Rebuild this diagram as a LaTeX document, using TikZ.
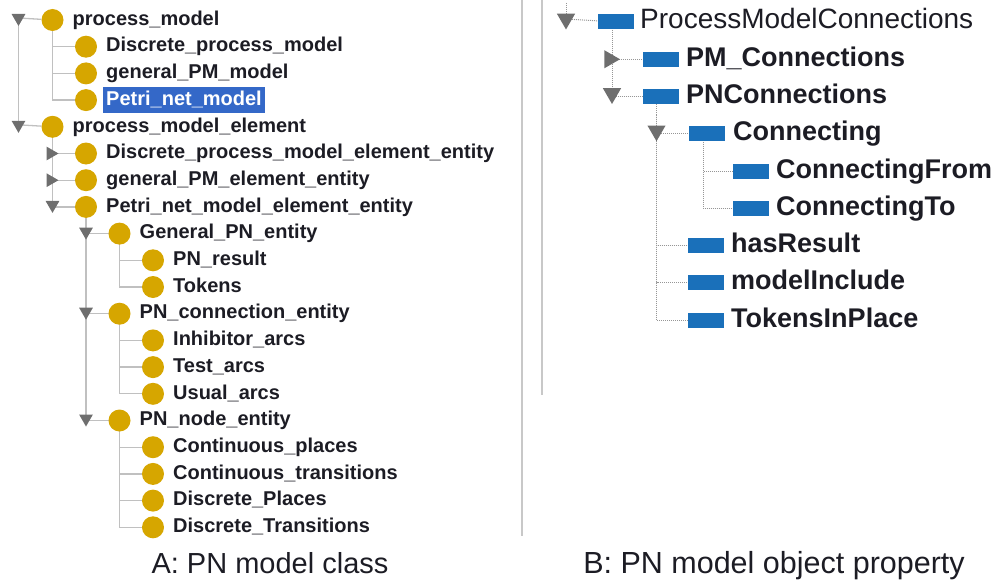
\documentclass[tikz,border=0pt]{standalone}
\usepackage{fontspec}
\setmainfont{Liberation Sans}
\usetikzlibrary{shapes.geometric,backgrounds}

\definecolor{classgold}{RGB}{214,166,0}
\definecolor{propblue}{RGB}{26,112,186}
\definecolor{selblue}{RGB}{52,104,200}
\definecolor{expgray}{RGB}{110,110,110}
\definecolor{treegray}{RGB}{192,192,192}
\definecolor{dotgray}{RGB}{150,150,150}
\definecolor{sepgray}{RGB}{200,200,200}
\definecolor{txtdark}{RGB}{28,28,36}

\begin{document}
\begin{tikzpicture}[x=1pt,y=-1pt,
  cls/.style={circle,fill=classgold,minimum size=22pt,inner sep=0pt},
  ltxt/.style={anchor=west,inner sep=0pt,text=txtdark,
    font=\fontsize{20}{21}\selectfont\bfseries,text height=14.5pt,text depth=4pt},
  seltxt/.style={ltxt,fill=selblue,text=white,inner xsep=3pt,inner ysep=3.8pt},
  expdown/.style={regular polygon,regular polygon sides=3,shape border rotate=180,
    fill=expgray,inner sep=0pt,minimum size=16pt},
  expright/.style={regular polygon,regular polygon sides=3,shape border rotate=-90,
    fill=expgray,inner sep=0pt,minimum size=16pt},
  prop/.style={rectangle,fill=propblue,minimum width=36pt,minimum height=15pt,inner sep=0pt},
  rtxt/.style={anchor=west,inner sep=0pt,text=txtdark,
    font=\fontsize{27}{28}\selectfont\bfseries,text height=19.5pt,text depth=5.5pt},
  rroot/.style={rtxt,font=\fontsize{28}{29}\selectfont},
  bigdown/.style={regular polygon,regular polygon sides=3,shape border rotate=180,
    fill=expgray,inner sep=0pt,minimum size=21pt},
  bigright/.style={regular polygon,regular polygon sides=3,shape border rotate=-90,
    fill=expgray,inner sep=0pt,minimum size=21pt},
  tline/.style={draw=treegray,line width=1.3pt},
  dline/.style={draw=dotgray,line width=1pt,dash pattern=on 1pt off 1pt},
  sepline/.style={draw=sepgray,line width=1.8pt},
  captext/.style={anchor=base,inner sep=0pt,text=txtdark,font=\fontsize{29}{30}\selectfont},
  captextb/.style={captext,font=\fontsize{30.5}{31}\selectfont}
]
\useasboundingbox (0,0) rectangle (992,583);

% ---------- class hierarchy ----------
\node[expdown] (t0) at (18.5,18) {};
\node[cls] (c0) at (52.5,20.0) {};
\node[ltxt] (l0) at (72.5,20.0) {process\_model};
\node[cls] (c1) at (86,46.7) {};
\node[ltxt] (l1) at (106,46.7) {Discrete\_process\_model};
\node[cls] (c2) at (86,73.4) {};
\node[ltxt] (l2) at (106,73.4) {general\_PM\_model};
\node[cls] (c3) at (86,100.1) {};
\node[seltxt] (l3) at (103,100.1) {Petri\_net\_model};
\node[expdown] (t4) at (18.5,124.8) {};
\node[cls] (c4) at (52.5,126.8) {};
\node[ltxt] (l4) at (72.5,126.8) {process\_model\_element};
\node[expright] (t5) at (50.5,153.5) {};
\node[cls] (c5) at (86,153.5) {};
\node[ltxt] (l5) at (106,153.5) {Discrete\_process\_model\_element\_entity};
\node[expright] (t6) at (50.5,180.2) {};
\node[cls] (c6) at (86,180.2) {};
\node[ltxt] (l6) at (106,180.2) {general\_PM\_element\_entity};
\node[expdown] (t7) at (52.5,204.9) {};
\node[cls] (c7) at (86,206.9) {};
\node[ltxt] (l7) at (106,206.9) {Petri\_net\_model\_element\_entity};
\node[expdown] (t8) at (86,231.6) {};
\node[cls] (c8) at (119.5,233.6) {};
\node[ltxt] (l8) at (139.5,233.6) {General\_PN\_entity};
\node[cls] (c9) at (153,260.3) {};
\node[ltxt] (l9) at (173,260.3) {PN\_result};
\node[cls] (c10) at (153,287.0) {};
\node[ltxt] (l10) at (173,287.0) {Tokens};
\node[expdown] (t11) at (86,311.7) {};
\node[cls] (c11) at (119.5,313.7) {};
\node[ltxt] (l11) at (139.5,313.7) {PN\_connection\_entity};
\node[cls] (c12) at (153,340.4) {};
\node[ltxt] (l12) at (173,340.4) {Inhibitor\_arcs};
\node[cls] (c13) at (153,367.1) {};
\node[ltxt] (l13) at (173,367.1) {Test\_arcs};
\node[cls] (c14) at (153,393.8) {};
\node[ltxt] (l14) at (173,393.8) {Usual\_arcs};
\node[expdown] (t15) at (86,418.5) {};
\node[cls] (c15) at (119.5,420.5) {};
\node[ltxt] (l15) at (139.5,420.5) {PN\_node\_entity};
\node[cls] (c16) at (153,447.2) {};
\node[ltxt] (l16) at (173,447.2) {Continuous\_places};
\node[cls] (c17) at (153,473.9) {};
\node[ltxt] (l17) at (173,473.9) {Continuous\_transitions};
\node[cls] (c18) at (153,500.6) {};
\node[ltxt] (l18) at (173,500.6) {Discrete\_Places};
\node[cls] (c19) at (153,527.3) {};
\node[ltxt] (l19) at (173,527.3) {Discrete\_Transitions};

\begin{scope}[on background layer]
  \draw[tline] (t0) -- (t4);
  \draw[tline] (t0) -- (c0);
  \draw[tline] (t4) -- (c4);
  \foreach \k in {1,2,3} \draw[tline] (c0.center) |- (c\k.center);
  \foreach \k in {5,6,7} \draw[tline] (c4.center) |- (c\k.center);
  \foreach \k in {8,11,15} \draw[tline] (c7.center) |- (c\k.center);
  \foreach \k in {9,10} \draw[tline] (c8.center) |- (c\k.center);
  \foreach \k in {12,13,14} \draw[tline] (c11.center) |- (c\k.center);
  \foreach \k in {16,17,18,19} \draw[tline] (c15.center) |- (c\k.center);
\end{scope}

% ---------- separator ----------
\coordinate (s1a) at (522,0);
\coordinate (s1b) at (522,536);
\coordinate (s2a) at (542,0);
\coordinate (s2b) at (542,395);
\draw[sepline] (s1a) -- (s1b);
\draw[sepline] (s2a) -- (s2b);

% ---------- object property hierarchy ----------
\coordinate (top) at (566,3);
\node[bigdown] (u0) at (566,19) {};
\node[prop] (q0) at (616,22) {};
\node[rroot] (m0) at (640,22) {ProcessModelConnections};
\node[bigright] (u1) at (609.5,59.25) {};
\node[prop] (q1) at (660.5,59.25) {};
\node[rtxt] (m1) at (686,59.25) {PM\_Connections};
\node[bigdown] (u2) at (612,93.5) {};
\node[prop] (q2) at (660.5,96.5) {};
\node[rtxt] (m2) at (686,96.5) {PNConnections};
\node[bigdown] (u3) at (656.5,130.75) {};
\node[prop] (q3) at (707,133.75) {};
\node[rtxt] (m3) at (733,133.75) {Connecting};
\node[prop] (q4) at (750.5,171) {};
\node[rtxt] (m4) at (776,171) {ConnectingFrom};
\node[prop] (q5) at (750.5,208.25) {};
\node[rtxt] (m5) at (776,208.25) {ConnectingTo};
\node[prop] (q6) at (706,245.5) {};
\node[rtxt] (m6) at (731,245.5) {hasResult};
\node[prop] (q7) at (706,282.75) {};
\node[rtxt] (m7) at (731,282.75) {modelInclude};
\node[prop] (q8) at (706,320) {};
\node[rtxt] (m8) at (731,320) {TokensInPlace};

\begin{scope}[on background layer]
  \draw[dline] (top) -- (u0);
  \draw[dline] (u0) -- (q0);
  \foreach \k in {1,2} \draw[dline] ([xshift=-4pt]q0.center) |- (q\k.center);
  \foreach \k in {3,6,7,8} \draw[dline] ([xshift=-4pt]q2.center) |- (q\k.center);
  \foreach \k in {4,5} \draw[dline] ([xshift=-4pt]q3.center) |- (q\k.center);
\end{scope}

% ---------- captions ----------
\node[captext] (capA) at (270,573) {A: PN model class};
\node[captextb] (capB) at (774,573) {B: PN model object property};
\end{tikzpicture}
\end{document}
